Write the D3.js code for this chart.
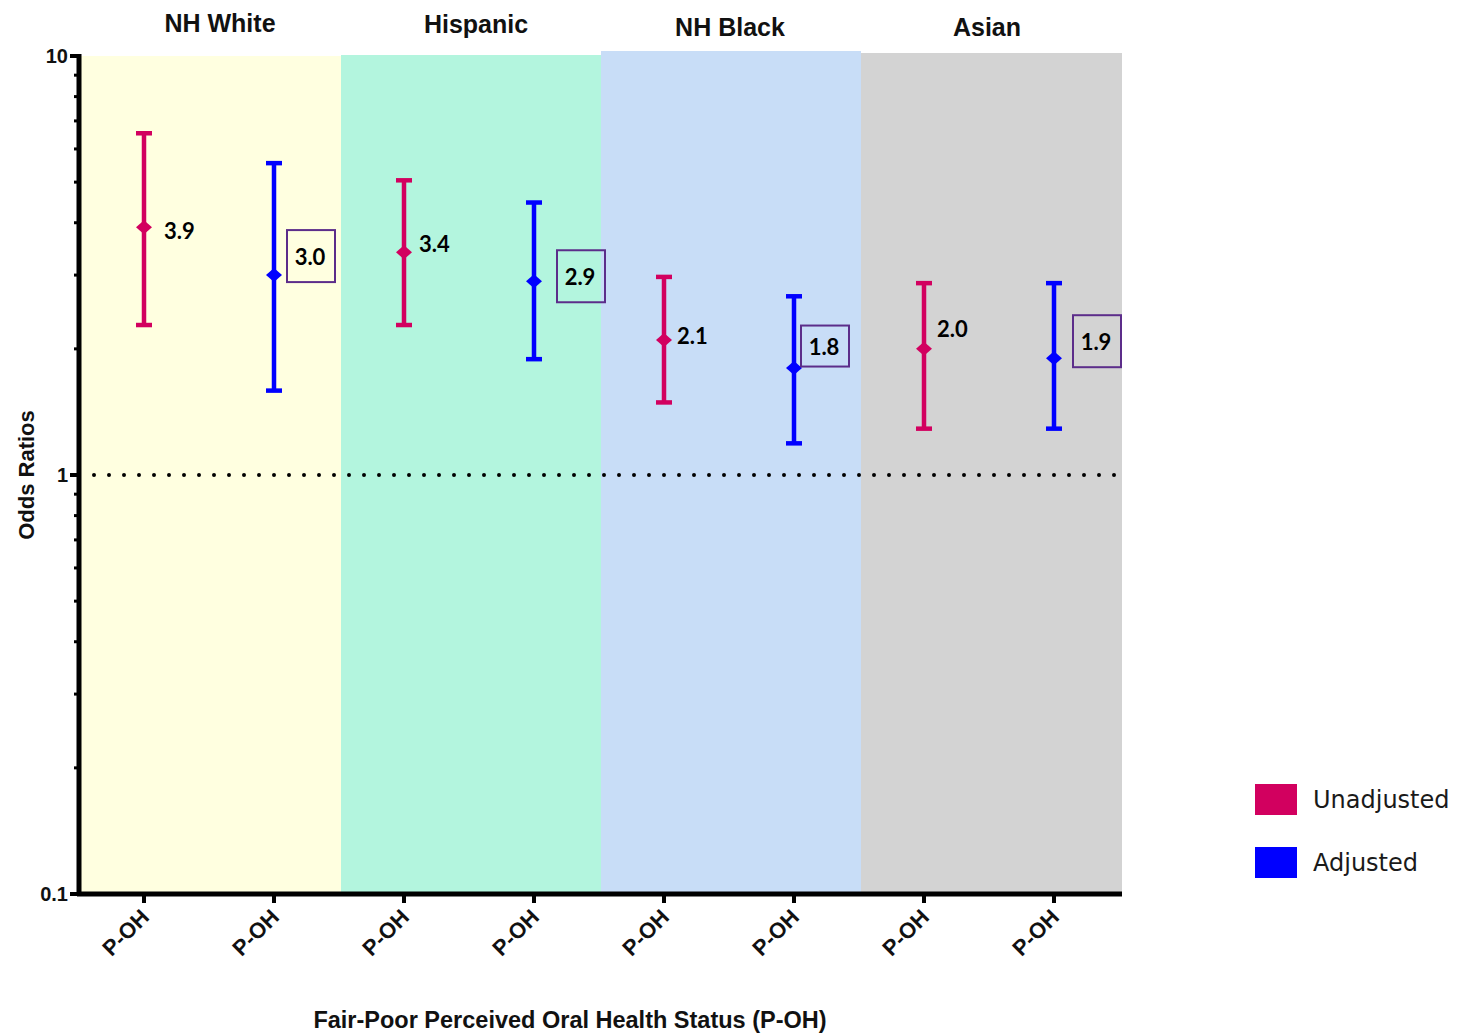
<!DOCTYPE html>
<html>
<head>
<meta charset="utf-8">
<script src="https://cdn.jsdelivr.net/npm/d3@7"></script>
<style>
  html, body { margin: 0; padding: 0; background: #fff; }
  svg { display: block; }
</style>
</head>
<body>
<script>
// ---- DATA ----
const groups = ["NH White", "Hispanic", "NH Black", "Asian"];
const seriesNames = ["Unadjusted", "Adjusted"];
const xTickLabel = "P-OH";
const unadjOR   = [3.9, 3.4, 2.1, 2.0];
const unadjLow  = [2.28, 2.28, 1.49, 1.29];
const unadjHigh = [6.54, 5.05, 2.97, 2.87];
const adjOR     = [3.0, 2.9, 1.8, 1.9];
const adjLow    = [1.59, 1.89, 1.19, 1.29];
const adjHigh   = [5.55, 4.47, 2.67, 2.87];
const yTicks = [0.1, 1, 10];
const yTickLabels = ["0.1", "1", "10"];
const refValue = 1;
const yTitle = "Odds Ratios";
const xTitle = "Fair-Poor Perceived Oral Health Status (P-OH)";

// ---- LAYOUT / STYLE ----
const W = 1466, H = 1033;
const mLeft = 79, mRight = 1119, mTop = 56, mBottom = 894;
const colors = { Unadjusted: "#d2005f", Adjusted: "#0000ff" };
const panelFill = ["#ffffe0", "#b3f5de", "#c8ddf7", "#d3d3d3"];
const panelTopAdj = [0, 1, 5, 3];
const titleDx = [11, 7, 1, -2];
const titleY = [32, 33, 36, 36];
// label offsets (unadjusted: plain text; adjusted: boxed)
const unadjLabelDx = [20, 15, 13, 13];
const unadjLabelDy = [4, -8, -4, -20];
const adjBoxDx = [13, 23, 7, 19];
const adjBoxDy = [-19, -5, -22, -17];
const adjBoxH = [52, 52, 41, 52];

const svg = d3.select("body").append("svg").attr("width", W).attr("height", H);

const y = d3.scaleLog().domain([0.1, 10]).range([mBottom, mTop]);
const xg = d3.scaleBand().domain(groups).range([mLeft, mRight]).padding(0);
const xs = d3.scaleBand().domain(seriesNames).range([0, xg.bandwidth()]).padding(0);
const cx = (g, s) => xg(g) + xs(s) + xs.bandwidth() / 2;

// panels
svg.append("g").selectAll("rect").data(groups).join("rect")
  .attr("x", g => xg(g) + 2)
  .attr("y", (g, i) => y(10) - panelTopAdj[i])
  .attr("width", (g, i) => xg.bandwidth() + (i === groups.length - 1 ? 1 : 0))
  .attr("height", (g, i) => y(0.1) - y(10) + panelTopAdj[i])
  .attr("fill", (g, i) => panelFill[i]);

// group titles
svg.append("g").selectAll("text").data(groups).join("text")
  .attr("x", (g, i) => xg(g) + xg.bandwidth() / 2 + titleDx[i])
  .attr("y", (g, i) => titleY[i])
  .attr("text-anchor", "middle")
  .attr("font-family", "Liberation Sans, Arial, sans-serif")
  .attr("font-weight", "bold")
  .attr("font-size", 25)
  .attr("fill", "#111")
  .text(g => g);

// reference dotted line
svg.append("line")
  .attr("x1", 94).attr("x2", 1116)
  .attr("y1", y(refValue)).attr("y2", y(refValue))
  .attr("stroke", "#000").attr("stroke-width", 4)
  .attr("stroke-linecap", "round")
  .attr("stroke-dasharray", "0,15");

// error bars
const rows = [];
groups.forEach((g, i) => {
  rows.push({ g, s: "Unadjusted", or: unadjOR[i], lo: unadjLow[i], hi: unadjHigh[i], i });
  rows.push({ g, s: "Adjusted", or: adjOR[i], lo: adjLow[i], hi: adjHigh[i], i });
});
const eb = svg.append("g").selectAll("g").data(rows).join("g");
eb.append("line")
  .attr("x1", d => cx(d.g, d.s)).attr("x2", d => cx(d.g, d.s))
  .attr("y1", d => y(d.lo)).attr("y2", d => y(d.hi))
  .attr("stroke", d => colors[d.s]).attr("stroke-width", 4.5);
const capW = 8;
["lo", "hi"].forEach(k => {
  eb.append("line")
    .attr("x1", d => cx(d.g, d.s) - capW).attr("x2", d => cx(d.g, d.s) + capW)
    .attr("y1", d => y(d[k])).attr("y2", d => y(d[k]))
    .attr("stroke", d => colors[d.s]).attr("stroke-width", 4.5);
});
eb.append("path")
  .attr("d", d => {
    const X = cx(d.g, d.s), Y = y(d.or);
    return `M${X},${Y - 7}L${X + 8},${Y}L${X},${Y + 7}L${X - 8},${Y}Z`;
  })
  .attr("fill", d => colors[d.s]);

// value labels
const lblFont = "Lato, 'Open Sans', sans-serif";
svg.append("g").selectAll("text").data(rows.filter(r => r.s === "Unadjusted")).join("text")
  .attr("x", d => cx(d.g, d.s) + unadjLabelDx[d.i])
  .attr("y", d => y(d.or) + unadjLabelDy[d.i])
  .attr("dy", "0.36em")
  .attr("font-family", lblFont).attr("font-weight", "bold").attr("font-size", 22)
  .attr("fill", "#000")
  .text(d => d.or.toFixed(1));

const boxes = svg.append("g").selectAll("g").data(rows.filter(r => r.s === "Adjusted")).join("g")
  .attr("transform", d => `translate(${cx(d.g, d.s) + adjBoxDx[d.i]},${y(d.or) + adjBoxDy[d.i]})`);
boxes.append("rect")
  .attr("x", 0).attr("y", d => -adjBoxH[d.i] / 2)
  .attr("width", 48).attr("height", d => adjBoxH[d.i])
  .attr("fill", "none").attr("stroke", "#5c2d8a").attr("stroke-width", 2);
boxes.append("text")
  .attr("x", 23).attr("y", 1).attr("dy", "0.36em")
  .attr("text-anchor", "middle")
  .attr("font-family", lblFont).attr("font-weight", "bold").attr("font-size", 22)
  .attr("fill", "#000")
  .text(d => d.or.toFixed(1));

// y axis
const yAxisG = svg.append("g").attr("transform", `translate(${mLeft},0)`);
yAxisG.append("line").attr("x1", 0).attr("x2", 0).attr("y1", mTop - 2).attr("y2", mBottom + 2)
  .attr("stroke", "#000").attr("stroke-width", 5);
const minors = [];
[0.1, 1].forEach(dec => { for (let k = 2; k <= 9; k++) minors.push(dec * k); });
yAxisG.selectAll("line.minor").data(minors).join("line").attr("class", "minor")
  .attr("x1", -5).attr("x2", 0).attr("y1", d => y(d)).attr("y2", d => y(d))
  .attr("stroke", "#000").attr("stroke-width", 3);
yAxisG.selectAll("line.major").data(yTicks).join("line").attr("class", "major")
  .attr("x1", -9).attr("x2", 0).attr("y1", d => y(d)).attr("y2", d => y(d))
  .attr("stroke", "#000").attr("stroke-width", 4);
yAxisG.selectAll("text").data(yTicks).join("text")
  .attr("x", -11).attr("y", d => y(d)).attr("dy", "0.35em")
  .attr("text-anchor", "end")
  .attr("font-family", "Liberation Sans, Arial, sans-serif").attr("font-weight", "bold").attr("font-size", 20)
  .attr("fill", "#111")
  .text((d, i) => yTickLabels[i]);

// x axis
const xAxisG = svg.append("g").attr("transform", `translate(0,${mBottom})`);
xAxisG.append("line").attr("x1", mLeft - 2).attr("x2", mRight + 3).attr("y1", 0).attr("y2", 0)
  .attr("stroke", "#000").attr("stroke-width", 5);
xAxisG.selectAll("line.tick").data(rows).join("line").attr("class", "tick")
  .attr("x1", d => cx(d.g, d.s)).attr("x2", d => cx(d.g, d.s))
  .attr("y1", 0).attr("y2", 9)
  .attr("stroke", "#000").attr("stroke-width", 4);
xAxisG.selectAll("text").data(rows).join("text")
  .attr("transform", d => `translate(${cx(d.g, d.s) + 1},${19}) rotate(-45)`)
  .attr("text-anchor", "end").attr("dy", "0.35em")
  .attr("font-family", "Liberation Sans, Arial, sans-serif").attr("font-weight", "bold").attr("font-size", 22)
  .attr("fill", "#111")
  .text(xTickLabel);

// axis titles
svg.append("text")
  .attr("transform", `translate(34,${475}) rotate(-90)`)
  .attr("text-anchor", "middle")
  .attr("font-family", "Liberation Sans, Arial, sans-serif").attr("font-weight", "bold").attr("font-size", 22)
  .attr("fill", "#111")
  .text(yTitle);
svg.append("text")
  .attr("x", 570).attr("y", 1028)
  .attr("text-anchor", "middle")
  .attr("font-family", "Liberation Sans, Arial, sans-serif").attr("font-weight", "bold").attr("font-size", 23.5)
  .attr("fill", "#111")
  .text(xTitle);

// legend
const leg = svg.append("g").selectAll("g").data(seriesNames).join("g")
  .attr("transform", (d, i) => `translate(1255,${784 + i * 63})`);
leg.append("rect").attr("width", 42).attr("height", 31).attr("fill", d => colors[d]);
leg.append("text")
  .attr("x", 58).attr("y", 16).attr("dy", "0.35em")
  .attr("font-family", "DejaVu Sans, sans-serif").attr("font-size", 24)
  .attr("fill", "#1a1a1a")
  .text(d => d);
</script>
</body>
</html>
